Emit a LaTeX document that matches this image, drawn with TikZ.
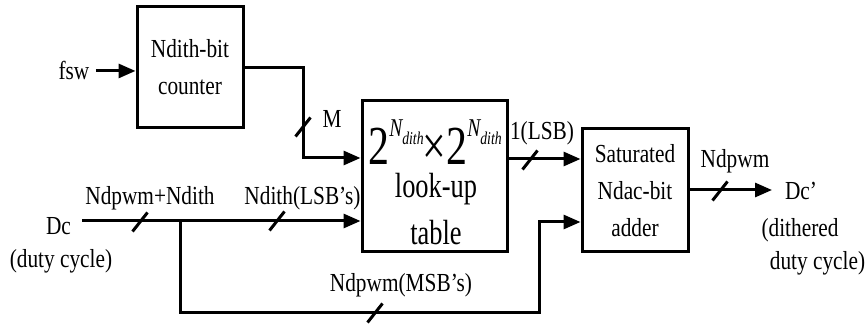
\documentclass[tikz,border=0pt]{standalone}
\usepackage{fontspec}
\setmainfont{Liberation Serif}[FakeStretch=0.82]
\usetikzlibrary{arrows.meta}
\begin{document}
\begin{tikzpicture}[x=0.5pt,y=-0.5pt,
  line width=1.5pt,
  blk/.style={draw,line width=1.5pt,inner sep=0pt,align=center,
    font=\fontsize{13pt}{18.5pt}\selectfont},
  lbl/.style={inner sep=0pt,anchor=base,font=\fontsize{13pt}{15pt}\selectfont},
  big/.style={inner sep=0pt,anchor=base,font=\fontsize{17.5pt}{20pt}\selectfont},
  arr/.style={-{Triangle[length=8.5pt,width=7pt]}},
  bus/.pic={\draw[line width=1.5pt] (-7.5,9.5) -- (7.5,-9.5);}
  ]
\useasboundingbox (0,0) rectangle (867,325);

% blocks
\node[blk,minimum width=53pt,minimum height=60.5pt] (cnt) at (190,67.5) {Ndith-bit\\counter};
\node[blk,minimum width=72.5pt,minimum height=75.5pt] (lut) at (434.5,176.5) {};
\node[blk,minimum width=53pt,minimum height=61.5pt] (adder) at (635,190.5) {Saturated\\Ndac-bit\\adder};

% LUT text
\node[inner sep=0pt,anchor=base] (lut1) at (435,165) {\scalebox{0.93}[1]{%
  {\fontsize{27.5pt}{30pt}\selectfont 2}%
  \raisebox{14pt}{\fontsize{12.8pt}{14pt}\selectfont\itshape N}%
  \raisebox{10pt}{\fontsize{9pt}{10pt}\selectfont\itshape dith}%
  {\fontsize{27.5pt}{30pt}\selectfont\kern-0.5pt×2}%
  \raisebox{14pt}{\fontsize{12.8pt}{14pt}\selectfont\itshape N}%
  \raisebox{10pt}{\fontsize{9pt}{10pt}\selectfont\itshape dith}}};
\node[big] (lut2) at (436,198) {\scalebox{0.92}[1]{look-up}};
\node[big] (lut3) at (436,245) {\scalebox{0.92}[1]{table}};

% labels
\node[lbl] (fsw) at (74,80) {fsw};
\node[lbl] (mlab) at (332,128) {M};
\node[lbl] (dc) at (58.5,235) {Dc};
\node[lbl] (dcdesc) at (61,268) {(duty cycle)};
\node[lbl] (l1) at (150,205) {Ndpwm+Ndith};
\node[lbl] (l2) at (302.5,205) {Ndith(LSB’s)};
\node[lbl] (l3) at (401,292) {Ndpwm(MSB’s)};
\node[lbl] (l4) at (542,140) {1(LSB)};
\node[lbl] (l5) at (735,168) {Ndpwm};
\node[lbl] (dcp) at (801,200) {Dc’};
\node[lbl] (dcp2) at (800,237) {(dithered};
\node[lbl] (dcp3) at (817.5,270) {duty cycle)};

% helper coordinates
\coordinate (m1) at (303,158);
\coordinate (dcs) at (82,221);
\coordinate (j) at (180,221);
\coordinate (b2) at (539,313);
\coordinate (y222) at (0,222);
\coordinate (y159) at (0,159);
\coordinate (y190) at (0,190);
\coordinate (e3) at (772,190);

% connectors
\draw[arr] ([xshift=2.5pt]fsw.east) -- (fsw.east -| cnt.west);
\draw[arr] (cnt.east) -| (m1) -- (m1 -| lut.west);
\draw[arr] (dcs) -- (dcs -| lut.west);
\draw[arr] (j) |- (b2) |- (adder.west |- y222);
\draw[arr] (lut.east |- y159) -- (adder.west |- y159);
\draw[arr] (adder.east |- y190) -- (e3);

% bus marks
\pic at (303,127) {bus};
\pic at (140,222) {bus};
\pic at (277,221) {bus};
\pic at (375,313) {bus};
\pic at (530,160) {bus};
\pic at (720,191) {bus};
\end{tikzpicture}
\end{document}
